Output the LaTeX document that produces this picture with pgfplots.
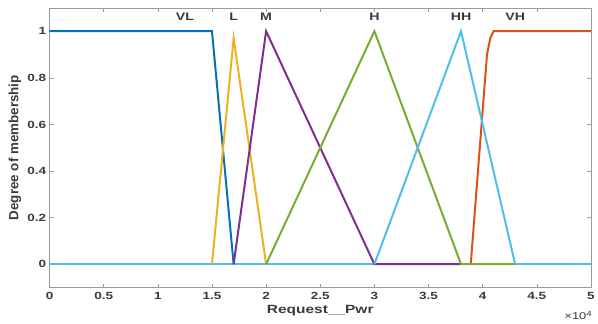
\documentclass[border=0pt]{standalone}
\usepackage{pgfplots}
\pgfplotsset{compat=1.18}
\usepackage{fontspec}
\setmainfont{Liberation Sans}
\newfontfamily\wide[FakeStretch=1.3]{Liberation Sans}
\definecolor{mvl}{HTML}{0072BD}
\definecolor{mvh}{HTML}{D95319}
\definecolor{ml}{HTML}{EDB120}
\definecolor{mm}{HTML}{7E2F8E}
\definecolor{mh}{HTML}{77AC30}
\definecolor{mhh}{HTML}{4DBEEE}
\definecolor{axgray}{HTML}{9A9A9A}
\definecolor{txt}{HTML}{3A3A3A}
\begin{document}
\begin{tikzpicture}
\begin{axis}[
  scale only axis, width=546pt, height=282pt,
  xmin=0, xmax=5, ymin=-0.1, ymax=1.1,
  xtick={0,0.5,...,5}, ytick={0,0.2,0.4,0.6,0.8,1},
  xticklabels={0,0.5,1,1.5,2,2.5,3,3.5,4,4.5,5},
  yticklabels={0,0.2,0.4,0.6,0.8,1},
  tick align=inside, major tick length=4pt,
  axis line style={axgray, line width=0.7pt},
  every tick/.style={axgray, line width=0.6pt},
  tick label style={font=\wide\fontsize{10.5}{12}\selectfont\bfseries, text=txt},
  xticklabel style={yshift=-1pt},
  xlabel={Request\_\_Pwr}, ylabel={Degree of membership},
  xlabel style={font=\wide\fontsize{12}{14}\selectfont\bfseries, text=txt, at={(axis description cs:0.5,0)}, anchor=center, yshift=-23pt},
  ylabel style={font=\fontsize{13.5}{15}\selectfont\bfseries, text=txt, at={(axis description cs:-0.064,0.5)}, anchor=center},
  clip=false,
]
\addplot[mhh, line width=2pt] coordinates {(0,0) (5,0)};
\addplot[mvl, line width=2pt] coordinates {(0,1) (1.5,1) (1.7,0)};
\addplot[mvh, line width=2pt] coordinates {(3.89,0) (4.04,0.9) (4.07,0.97) (4.1,1) (5,1)};
\addplot[ml, line width=2pt] coordinates {(1.5,0) (1.7,0.97) (2.0,0)};
\addplot[mm, line width=2pt] coordinates {(1.7,0) (2.0,1) (3.0,0) (3.8,0)};
\addplot[mh, line width=2pt] coordinates {(2.0,0) (3.0,1) (3.8,0) (4.3,0)};
\addplot[mhh, line width=2pt] coordinates {(3.0,0) (3.8,1) (4.3,0)};
\node[font=\wide\fontsize{11}{12}\selectfont\bfseries, text=txt] at (axis cs:1.25,1.062) {VL};
\node[font=\wide\fontsize{11}{12}\selectfont\bfseries, text=txt] at (axis cs:1.7,1.062) {L};
\node[font=\wide\fontsize{11}{12}\selectfont\bfseries, text=txt] at (axis cs:2.0,1.062) {M};
\node[font=\wide\fontsize{11}{12}\selectfont\bfseries, text=txt] at (axis cs:3.0,1.062) {H};
\node[font=\wide\fontsize{11}{12}\selectfont\bfseries, text=txt] at (axis cs:3.8,1.062) {HH};
\node[font=\wide\fontsize{11}{12}\selectfont\bfseries, text=txt] at (axis cs:4.3,1.062) {VH};
\end{axis}
\node[anchor=east, font=\wide\fontsize{10}{12}\selectfont, text=txt, inner sep=0pt] at ([yshift=-28pt,xshift=1pt]current axis.south east) {×10\raisebox{0.5ex}{\fontsize{7.5}{8}\selectfont 4}};
\path[use as bounding box] ([xshift=-50pt,yshift=-36pt]current axis.south west) rectangle ([xshift=2pt,yshift=8pt]current axis.north east);
\end{tikzpicture}
\end{document}
